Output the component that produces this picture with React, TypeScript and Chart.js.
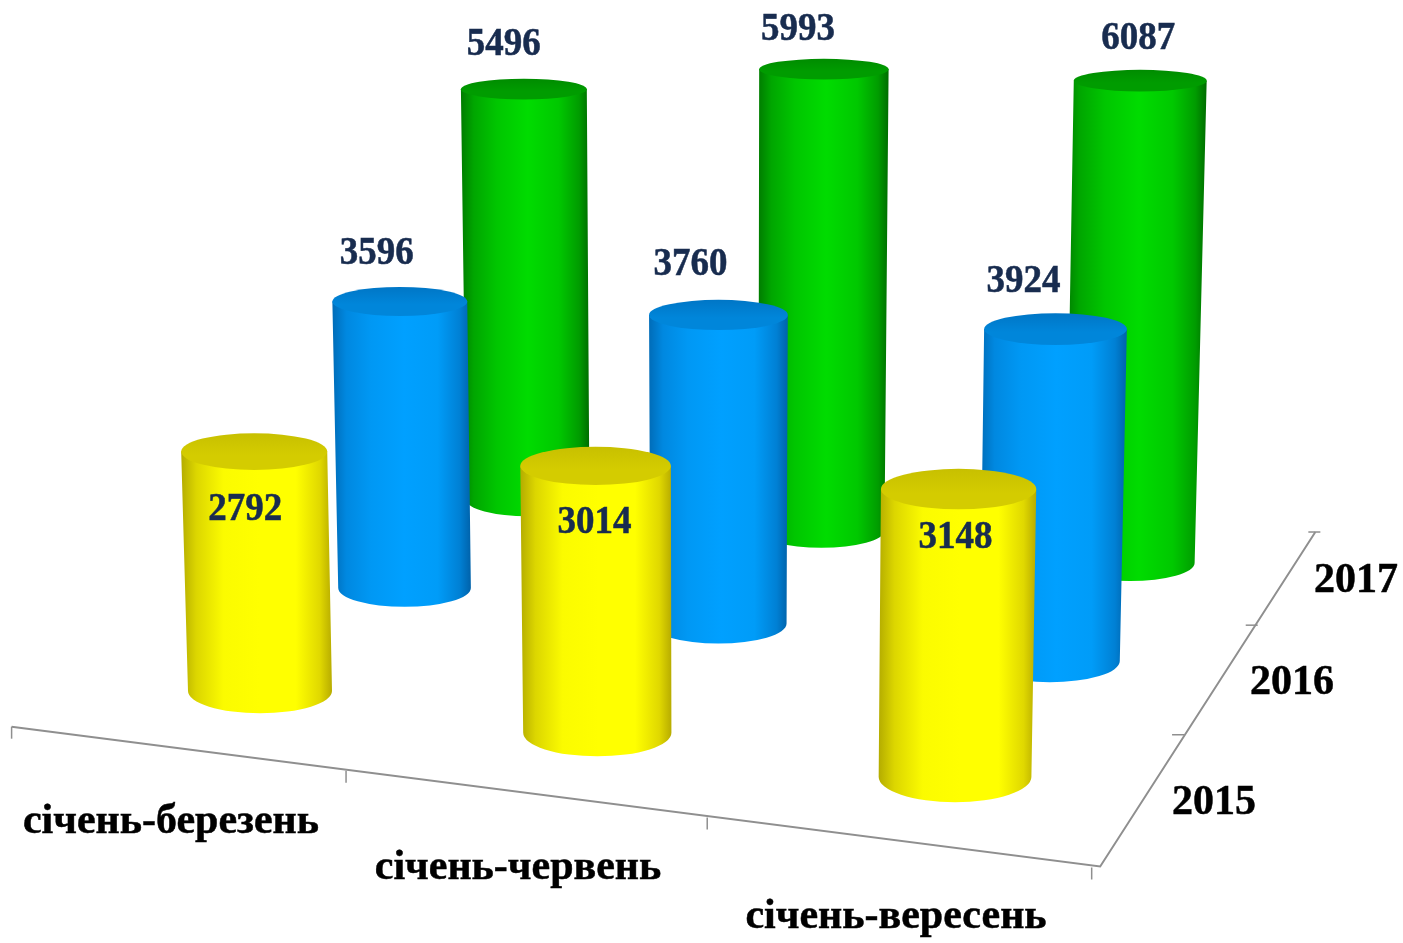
import React, { useEffect, useRef } from "react";
import { Chart, BarController, BarElement, CategoryScale, LinearScale } from "chart.js";

const categories = ["січень-березень", "січень-червень", "січень-вересень"];
const years = ["2015", "2016", "2017"];
const values2015 = [2792, 3014, 3148];
const values2016 = [3596, 3760, 3924];
const values2017 = [5496, 5993, 6087];

const W = 1403;
const H = 943;
const Y_MAX = 7000;
const SERIF = '"Liberation Serif", "Times New Roman", serif';

// Pinhole projection of (u = category, v = series, h = value) onto the page.
const CAM = {
  x: [260, 320.25, 179.15],
  y: [691, 20.8, -52.7],
  w: [1, -0.02855, 0.08555],
  g: -5.0e-6,
  vx: 720,
  vy: 17600,
  lean: 0.89,
  stretch: 0.004,
  r: 72,
};
const project = (u: number, v: number, h: number) => {
  const w0 = CAM.w[0] + CAM.w[1] * u + CAM.w[2] * v;
  const wn = w0 + CAM.g * h;
  const numX = CAM.x[0] + CAM.x[1] * u + CAM.x[2] * v;
  const numY = CAM.y[0] + CAM.y[1] * u + CAM.y[2] * v;
  const bx = numX / w0;
  const by = numY / w0;
  const px = (numX + CAM.g * CAM.vx * h) / wn;
  const py = (numY + CAM.g * CAM.vy * h) / wn;
  const x = bx + CAM.lean * (px - bx);
  const y = by + (1 + CAM.stretch * u) * (py - by);
  const rx = CAM.r / wn;
  const ry = rx * (0.16 + 0.00024 * (y - 70));
  return { x, y, rx, ry };
};

const STOPS = [0, 0.1, 0.28, 0.52, 0.76, 0.92, 1];
const STYLES = [
  { body: ["#b4ac00", "#dcd600", "#fbfb00", "#ffff00", "#ffff00", "#e0d800", "#b8ac00"], top: "#d4cc00", topBack: "#c8c000" },
  { body: ["#006cb8", "#0088e0", "#0098f4", "#00a0ff", "#009cf8", "#0080d4", "#0062aa"], top: "#0086da", topBack: "#0076c6" },
  { body: ["#007c00", "#00a600", "#00c600", "#00dc00", "#00c800", "#009c00", "#006c00"], top: "#009c00", topBack: "#008c00" },
];

// Label placement relative to each cylinder's top centre, per series then category.
const LABEL_SHIFT = [
  [[-9, 68], [-1, 67], [-3, 59]],
  [[-23, -37], [-28, -40], [-32, -37]],
  [[-20, -34], [-26, -29], [-2, -32]],
];

const uOf = (chart: any, i: number) => {
  const s = chart.scales.x;
  return (s.getPixelForValue(i) - s.left) / (s.width / categories.length) - 0.5;
};
const vOf = (chart: any, d: number) => {
  const s = chart.scales.z;
  return (s.getPixelForValue(d) - s.left) / (s.width / years.length) - 0.5;
};
const hOf = (chart: any, value: number) => {
  const s = chart.scales.y;
  return ((s.getPixelForValue(0) - s.getPixelForValue(value)) / s.height) * Y_MAX;
};

class CylinderController extends BarController {
  static id = "cylinder";
  static defaults = BarController.defaults;
  static overrides = BarController.overrides;
  draw() {
    const chart: any = this.chart;
    const ctx = chart.ctx;
    const d = this.index;
    const st = STYLES[d];
    const v = vOf(chart, d);
    const n = this.getMeta().data.length;
    ctx.save();
    ctx.filter = "blur(0.7px)";
    for (let i = 0; i < n; i++) {
      const val = (this.getParsed(i) as any).y;
      const u = uOf(chart, i);
      const b = project(u, v, 0);
      const t = project(u, v, hOf(chart, val));
      const left = Math.min(b.x - b.rx, t.x - t.rx);
      const right = Math.max(b.x + b.rx, t.x + t.rx);
      const g = ctx.createLinearGradient(left, 0, right, 0);
      STOPS.forEach((s, k) => g.addColorStop(s, st.body[k]));
      ctx.fillStyle = g;
      ctx.beginPath();
      ctx.moveTo(t.x - t.rx, t.y);
      ctx.lineTo(b.x - b.rx, b.y);
      ctx.ellipse(b.x, b.y, b.rx, b.ry, 0, Math.PI, 0, true);
      ctx.lineTo(t.x + t.rx, t.y);
      ctx.closePath();
      ctx.fill();
      const tg = ctx.createLinearGradient(0, t.y - t.ry, 0, t.y + t.ry);
      tg.addColorStop(0, st.topBack);
      tg.addColorStop(0.6, st.top);
      tg.addColorStop(1, st.top);
      ctx.fillStyle = tg;
      ctx.beginPath();
      ctx.ellipse(t.x, t.y, t.rx, t.ry, 0, 0, Math.PI * 2);
      ctx.fill();
    }
    ctx.restore();
  }
}

Chart.register(CylinderController, BarElement, CategoryScale, LinearScale);

const floorPlugin = {
  id: "floor",
  beforeDatasetsDraw(chart: any) {
    const ctx = chart.ctx;
    const lo = -0.5;
    const hiU = categories.length - 0.5;
    const hiV = years.length - 0.5;
    const a = project(lo, lo, 0);
    const c = project(hiU, lo, 0);
    const e = project(hiU, hiV, 0);
    ctx.save();
    ctx.strokeStyle = "#8f8f8f";
    ctx.lineWidth = 2;
    ctx.filter = "blur(0.4px)";
    ctx.beginPath();
    ctx.moveTo(a.x + 1, a.y - 1);
    ctx.lineTo(c.x + 4, c.y - 2);
    ctx.lineTo(e.x - 5, e.y - 3);
    ctx.stroke();
    ctx.lineWidth = 1.5;
    for (let i = 0; i <= categories.length; i++) {
      const p = project(lo + i, lo, 0);
      const dx = i === 0 ? 1 : -4.5;
      ctx.beginPath();
      ctx.moveTo(p.x + dx, p.y - 1);
      ctx.lineTo(p.x + dx, p.y + 11);
      ctx.stroke();
    }
    for (let i = 1; i <= years.length; i++) {
      const p = project(hiU, lo + i, 0);
      ctx.beginPath();
      ctx.moveTo(p.x - 12, p.y - 3);
      ctx.lineTo(p.x, p.y - 3);
      ctx.stroke();
    }
    ctx.restore();
  },
};

const CATEGORY_POS = [[171, 833], [518, 879], [896, 928]];
const YEAR_POS = [[1214, 814], [1292, 694], [1356, 592]];

const textPlugin = {
  id: "texts",
  afterDatasetsDraw(chart: any) {
    const ctx = chart.ctx;
    ctx.save();
    ctx.textAlign = "center";
    ctx.textBaseline = "alphabetic";
    ctx.fillStyle = "#000000";
    ctx.strokeStyle = "#000000";
    ctx.lineWidth = 0.5;
    ctx.font = `bold 42px ${SERIF}`;
    const put = (c: string, x: number, y: number) => {
      ctx.fillText(c, x, y);
      ctx.strokeText(c, x, y);
    };
    categories.forEach((c, i) => put(c, CATEGORY_POS[i][0], CATEGORY_POS[i][1]));
    years.forEach((c, i) => put(c, YEAR_POS[i][0], YEAR_POS[i][1]));
    ctx.font = `bold 37px ${SERIF}`;
    ctx.fillStyle = "#182c4f";
    ctx.strokeStyle = "#182c4f";
    chart.data.datasets.forEach((ds: any, d: number) => {
      ds.data.forEach((val: number, i: number) => {
        const t = project(uOf(chart, i), vOf(chart, d), hOf(chart, val));
        ctx.save();
        ctx.translate(t.x + LABEL_SHIFT[d][i][0], t.y + LABEL_SHIFT[d][i][1]);
        ctx.scale(1, 1.07);
        put(String(val), 0, 0);
        ctx.restore();
      });
    });
    ctx.restore();
  },
};

export default function App() {
  const ref = useRef<HTMLCanvasElement>(null);
  useEffect(() => {
    const chart = new Chart(ref.current as HTMLCanvasElement, {
      type: "cylinder" as any,
      data: {
        labels: categories,
        datasets: [
          { label: years[0], data: values2015 },
          { label: years[1], data: values2016 },
          { label: years[2], data: values2017 },
        ],
      },
      options: {
        responsive: false,
        animation: false,
        devicePixelRatio: 1,
        layout: { padding: 0 },
        plugins: { legend: { display: false }, tooltip: { enabled: false } },
        scales: {
          x: { type: "category", display: false, offset: true },
          z: { type: "category", axis: "x", labels: years, display: false, offset: true },
          y: { type: "linear", display: false, min: 0, max: Y_MAX },
        },
      } as any,
      plugins: [floorPlugin, textPlugin],
    });
    return () => chart.destroy();
  }, []);
  return (
    <div style={{ position: "absolute", left: 0, top: 0, width: W, height: H, background: "#ffffff" }}>
      <canvas ref={ref} width={W} height={H} style={{ display: "block" }} />
    </div>
  );
}
